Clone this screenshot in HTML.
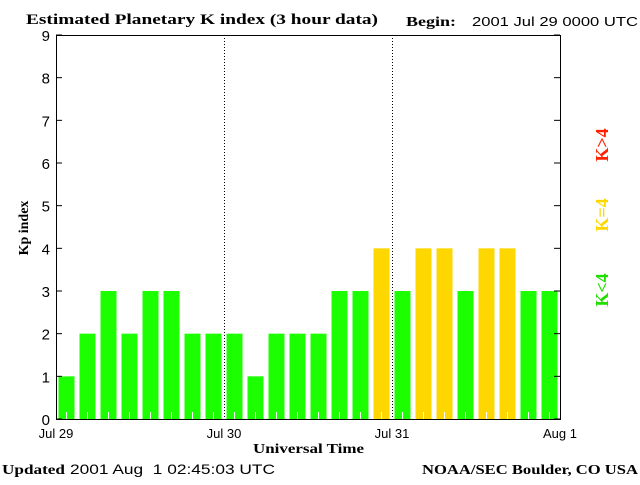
<!DOCTYPE html>
<html><head><meta charset="utf-8"><style>
body{margin:0;background:#fff;}
text{font-family:"Liberation Sans",sans-serif;}
.serif{font-family:"Liberation Serif",serif;font-weight:bold;}
</style></head><body>
<svg id="chart" width="640" height="480" xmlns="http://www.w3.org/2000/svg">
<text class="serif" x="26" y="24" font-size="15" textLength="352" lengthAdjust="spacingAndGlyphs">Estimated Planetary K index (3 hour data)</text>
<text class="serif" x="406" y="26" font-size="14" textLength="50" lengthAdjust="spacingAndGlyphs">Begin:</text>
<text x="472" y="26" font-size="13" textLength="166" lengthAdjust="spacingAndGlyphs">2001 Jul 29 0000 UTC</text>
<g id="bars"></g>
<g id="axes"></g>
<text class="serif" transform="translate(28,228) rotate(-90)" text-anchor="middle" font-size="14">Kp index</text>
<text class="serif" x="253" y="453" font-size="14" textLength="111" lengthAdjust="spacingAndGlyphs">Universal Time</text>
<text class="serif" transform="translate(608,290) rotate(-90)" text-anchor="middle" font-size="18" fill="#22dd00">K&lt;4</text>
<text class="serif" transform="translate(608,215) rotate(-90)" text-anchor="middle" font-size="18" fill="#ffd700">K=4</text>
<text class="serif" transform="translate(608,145) rotate(-90)" text-anchor="middle" font-size="18" fill="#ff2200">K&gt;4</text>
<text class="serif" x="2" y="474" font-size="14" textLength="63" lengthAdjust="spacingAndGlyphs">Updated</text>
<text x="70" y="474" font-size="14" textLength="205" lengthAdjust="spacingAndGlyphs" xml:space="preserve">2001 Aug  1 02:45:03 UTC</text>
<text class="serif" x="422" y="474" font-size="14" textLength="216" lengthAdjust="spacingAndGlyphs">NOAA/SEC Boulder, CO USA</text>
</svg>
<script>
const kpValues=[1,2,3,2,3,3,2,2,2,1,2,2,2,3,3,4,3,4,4,3,4,4,3,3];
const dayLabels=["Jul 29","Jul 30","Jul 31","Aug 1"];
const yTicks=[0,1,2,3,4,5,6,7,8,9];
const NS="http://www.w3.org/2000/svg";
const L=56,R=560,T=35,B=419;
const slot=(R-L)/kpValues.length;
const y=v=>B-(v/9)*(B-T);
const x=i=>L+i*slot;
function mk(tag,attrs,parent){const e=document.createElementNS(NS,tag);for(const k in attrs)e.setAttribute(k,attrs[k]);parent.appendChild(e);return e;}
const bars=document.getElementById('bars'),axes=document.getElementById('axes');
kpValues.forEach((v,i)=>{
 const c=v<4?'#1cff00':(v==4?'#ffd700':'#ff2200');
 const r=mk('rect',{x:x(i)+2.5,y:y(v),width:slot-5,height:B-y(v),fill:c},bars);
 
 
 mk('line',{x1:x(i)+slot/2,x2:x(i)+slot/2,y1:B-7,y2:B,stroke:'#fff','stroke-width':1},bars);
});
for(let d=1;d<dayLabels.length-1;d++){
 const xx=L+d*8*slot+0.5;
 const dl=mk('line',{x1:xx,x2:xx,y1:T,y2:B,stroke:'#000','stroke-dasharray':'1,2'},axes);
 
 
}
mk('rect',{x:L+0.5,y:T+0.5,width:R-L,height:B-T,fill:'none',stroke:'#000','stroke-width':1},axes);
yTicks.forEach(t=>{
 const yy=y(t);
 mk('line',{x1:L,x2:L+6,y1:yy,y2:yy,stroke:'#000'},axes);
 mk('line',{x1:R-6,x2:R,y1:yy,y2:yy,stroke:'#000'},axes);
 const tx=mk('text',{x:L-6,y:yy+6,'text-anchor':'end','font-size':15},axes);
 tx.textContent=t;
 
 
});
dayLabels.forEach((d,i)=>{
 const tx=mk('text',{x:L+i*8*slot,y:438,'text-anchor':'middle','font-size':13},axes);
 tx.textContent=d;
 
 
});
</script>
</body></html>
